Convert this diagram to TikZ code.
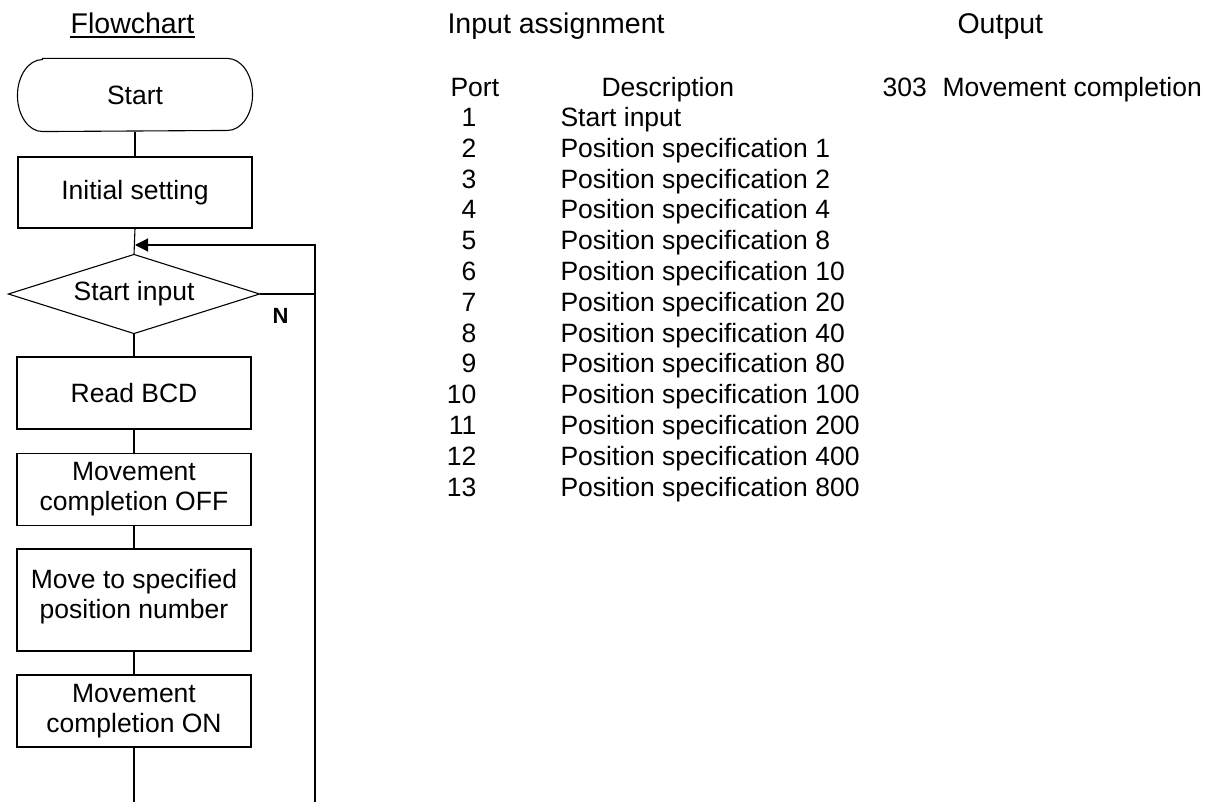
\documentclass[tikz,border=0pt]{standalone}
\usepackage{fontspec}
\setmainfont{Liberation Sans}
\usetikzlibrary{arrows.meta}
\begin{document}
\begin{tikzpicture}[x=1pt,y=-1pt,
  line width=1.1pt,
  body/.style={font=\fontsize{26.5}{30}\selectfont},
  titletext/.style={font=\fontsize{28.5}{32}\selectfont, anchor=base, inner sep=0pt},
  box/.style={draw, body, align=center, minimum width=234pt, minimum height=72pt, inner sep=0pt},
  cell/.style={body, anchor=base west, inner sep=0pt},
  num/.style={body, anchor=base east, inner sep=0pt},
  link/.style={line width=1.1pt}
]
\useasboundingbox (0,0) rectangle (1209,802);

% titles
\node[titletext] (ft) at (132.5,34) {Flowchart};
\draw[line width=2pt] ([yshift=-3.5pt]ft.base west) -- ([yshift=-3.5pt]ft.base east);
\node[titletext, anchor=base west] (it) at (447,34) {Input assignment};
\node[titletext, anchor=base west] (ot) at (957,34) {Output};

% flowchart
\node[body, minimum width=234pt, minimum height=72pt, inner sep=0pt] (start) at (135,95) {Start};
\draw ([xshift=25pt]start.north west) -- ([xshift=-25pt]start.north east)
  arc[start angle=90, end angle=-90, x radius=25pt, y radius=36pt]
  -- ([xshift=25pt]start.south west)
  arc[start angle=270, end angle=90, x radius=25pt, y radius=36pt] -- cycle;
\node[box, minimum height=71pt] (init) at (135,192.5) {Initial setting};
\node[body, minimum width=250pt, minimum height=78pt, inner sep=0pt] (dec) at (134,294) {Start input};
\draw (dec.north) -- (dec.east) -- (dec.south) -- (dec.west) -- cycle;
\node[box] (bcd) at (134,393) {Read BCD};
\node[box] (off) at (134,489.5) {Movement\\completion OFF};
\node[box, minimum height=102pt] (move) at (134,600) {};
\node[body, align=center, inner sep=0pt] (movetext) at (134,597) {Move to specified\\position number};
\node[box] (on) at (134,711) {Movement\\completion ON};
\node[font=\bfseries\fontsize{22}{24}\selectfont, inner sep=0pt] (nlab) at (280.5,316) {N};

\coordinate (endb) at (134,802);
\coordinate (loopb) at (315,802);
\coordinate (loopt) at (315,245);
\coordinate (jn) at (135,245);

\draw[link] (start.south) -- (init.north);
\draw[link] (init.south) -- (dec.north);
\draw[link] (dec.south) -- (bcd.north);
\draw[link] (bcd.south) -- (off.north);
\draw[link] (off.south) -- (move.north);
\draw[link] (move.south) -- (on.north);
\draw[link] (on.south) -- (endb);
\draw[link] (dec.east) -- (dec.east -| loopt);
\draw[link, -{Triangle[length=13pt,width=13pt]}] (loopb) -- (loopt) -- (jn);

% input assignment table
\node[cell] (porth) at (450,96.5) {Port};
\node[cell] (desch) at (601,96.5) {Description};
\foreach \n/\d [count=\k] in {1/Start input,
  2/Position specification 1,
  3/Position specification 2,
  4/Position specification 4,
  5/Position specification 8,
  6/Position specification 10,
  7/Position specification 20,
  8/Position specification 40,
  9/Position specification 80,
  10/Position specification 100,
  11/Position specification 200,
  12/Position specification 400,
  13/Position specification 800}{
  \node[num] (p\k) at (477,{126.5+30.8*(\k-1)}) {\n};
  \node[cell] (d\k) at (560,{126.5+30.8*(\k-1)}) {\d};
}

% output
\node[cell] (o1) at (882,96.5) {303};
\node[cell] (o2) at (942,96.5) {Movement completion};
\end{tikzpicture}
\end{document}
